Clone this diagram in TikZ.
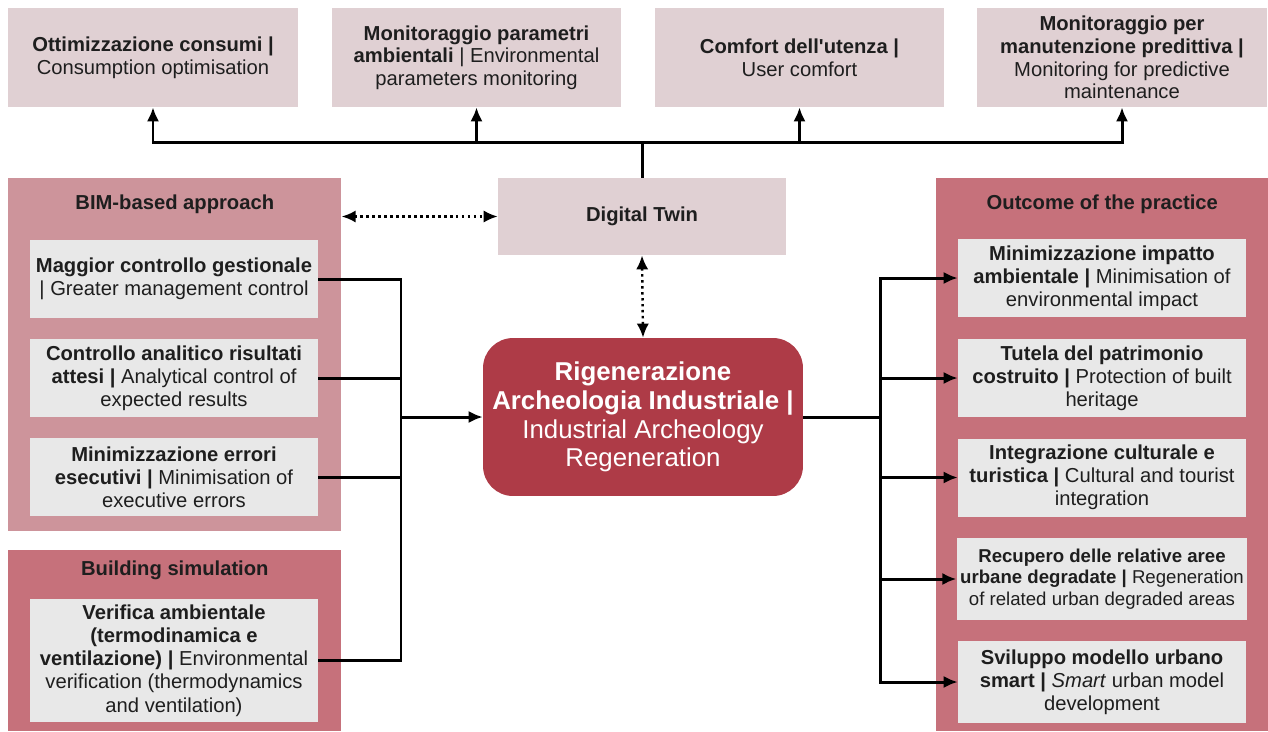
\documentclass[tikz,border=0pt]{standalone}
\usepackage{fontspec}
\setmainfont{Liberation Sans}
\usetikzlibrary{arrows.meta,positioning,calc}

\definecolor{topfill}{HTML}{E0D0D3}
\definecolor{bimfill}{HTML}{CD949B}
\definecolor{panelfill}{HTML}{C6717B}
\definecolor{itemfill}{HTML}{E8E8E8}
\definecolor{regenfill}{HTML}{AE3B47}
\definecolor{ink}{HTML}{1E1E1E}

\begin{document}
\begin{tikzpicture}[
  x=0.02cm, y=-0.02cm,
  every node/.style={text=ink},
  topbox/.style={fill=topfill, minimum width=5.8cm, minimum height=1.98cm, inner sep=2pt, align=center, font=\fontsize{11.5}{12.9}\selectfont},
  panel/.style={anchor=north west, minimum width=6.66cm, inner sep=0pt},
  paneltitle/.style={font=\fontsize{11.5}{13}\selectfont\bfseries, inner sep=0pt},
  item/.style={fill=itemfill, minimum width=5.76cm, minimum height=1.56cm, inner sep=2pt, align=center, font=\fontsize{11.5}{13.2}\selectfont},
  regen/.style={fill=regenfill, rounded corners=0.6cm, minimum width=6.4cm, minimum height=3.16cm, align=center, text=white, font=\fontsize{14.7}{16.4}\selectfont},
  line/.style={line width=1.7pt},
  arr/.style={-{Latex[length=8pt,width=7pt]}, line width=1.7pt},
  dotarr/.style={{Latex[length=8pt,width=7pt]}-{Latex[length=8pt,width=7pt]}, line width=1.4pt, dotted}
]
\useasboundingbox (0,0) rectangle (1268,731);

% Top row
\node[topbox] (cons) at (153,57.5) {\textbf{Ottimizzazione consumi |}\\Consumption optimisation};
\node[topbox] (envmon) at (476.5,57.5) {\textbf{Monitoraggio parametri}\\\textbf{ambientali} | Environmental\\parameters monitoring};
\node[topbox] (comfort) at (799.5,57.5) {\textbf{Comfort dell\textquotesingle utenza |}\\User comfort};
\node[topbox] (maint) at (1122,57.5) {\textbf{Monitoraggio per}\\\textbf{manutenzione predittiva |}\\Monitoring for predictive\\maintenance};

% Digital twin
\node[topbox, minimum width=5.76cm, minimum height=1.54cm] (twin) at (642,216.5) {\textbf{Digital Twin}};

% BIM-based approach
\node[panel, fill=bimfill, minimum height=7.06cm] (bim) at (8,178) {};
\node[paneltitle] (bimtitle) at ($(bim.north)+(0,26)$) {BIM-based approach};
\node[item] (bimA) at (174,279) {\textbf{Maggior controllo gestionale}\\| Greater management control};
\node[item] (bimB) at (174,378) {\textbf{Controllo analitico risultati}\\\textbf{attesi |} Analytical control of\\expected results};
\node[item] (bimC) at (174,477) {\textbf{Minimizzazione errori}\\\textbf{esecutivi |} Minimisation of\\executive errors};

% Building simulation
\node[panel, fill=panelfill, minimum height=3.62cm] (sim) at (8,550) {};
\node[paneltitle] (simtitle) at ($(sim.north)+(0,20)$) {Building simulation};
\node[item, minimum height=2.46cm] (simA) at (174,660.5) {\textbf{Verifica ambientale}\\\textbf{(termodinamica e}\\\textbf{ventilazione) |} Environmental\\verification (thermodynamics\\and ventilation)};

% Centre
\node[regen] (regen) at (643,417) {\textbf{Rigenerazione}\\\textbf{Archeologia Industriale |}\\Industrial Archeology\\Regeneration};

% Outcome of the practice
\node[panel, fill=panelfill, minimum width=6.64cm, minimum height=11.06cm] (outc) at (936,178) {};
\node[paneltitle] (outctitle) at ($(outc.north)+(0,26)$) {Outcome of the practice};
\node[item] (outA) at (1102,278) {\textbf{Minimizzazione impatto}\\\textbf{ambientale |} Minimisation of\\environmental impact};
\node[item] (outB) at (1102,378) {\textbf{Tutela del patrimonio}\\\textbf{costruito |} Protection of built\\heritage};
\node[item] (outC) at (1102,477.5) {\textbf{Integrazione culturale e}\\\textbf{turistica |} Cultural and tourist\\integration};
\node[item, minimum height=1.64cm, font=\fontsize{10.6}{12.2}\selectfont] (outD) at (1102,579) {\textbf{Recupero delle relative aree}\\\textbf{urbane degradate |} Regeneration\\of related urban degraded areas};
\node[item, minimum height=1.64cm] (outE) at (1102,682) {\textbf{Sviluppo modello urbano}\\\textbf{smart |} \textit{Smart} urban model\\development};

% Bus points
\coordinate (tbus) at (642,142);
\coordinate (lbus) at (401,417);
\coordinate (rbus) at (880,417);

% Digital twin to top row
\draw[line] (twin.north) -- (tbus);
\foreach \t in {cons,envmon,comfort,maint}
  \draw[arr] (tbus) -| (\t.south);

% Dotted links
\draw[dotarr] (bim.east |- twin.west) -- (twin.west);
\draw[dotarr] (twin.south) -- (regen.north);

% Left inputs
\foreach \b in {bimA,bimB,bimC,simA}
  \draw[line] (\b.east) -| (lbus);
\draw[arr] (lbus) -- (regen.west);

% Right outputs
\draw[line] (regen.east) -- (rbus);
\foreach \o in {outA,outB,outC,outD,outE}
  \draw[arr] (rbus) |- (\o.west);

\end{tikzpicture}
\end{document}
